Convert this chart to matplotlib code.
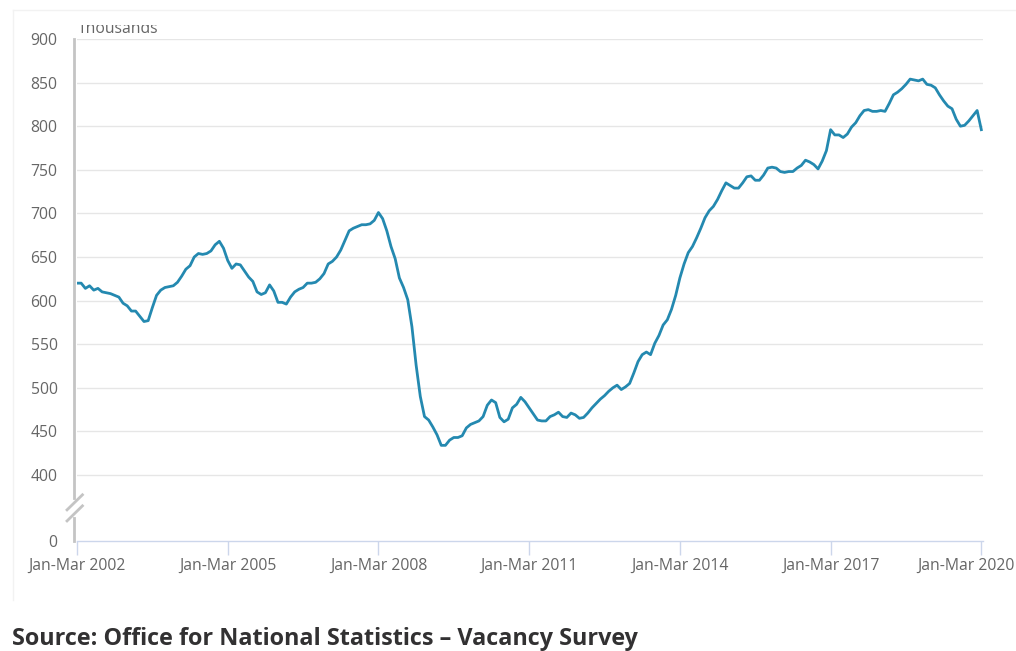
import numpy as np
import matplotlib.pyplot as plt
from matplotlib.transforms import Bbox

# UK vacancies, thousands, rolling quarters Jan-Mar 2002 .. Jan-Mar 2020
vac_2002 = [620, 620, 614, 617, 612, 614, 610, 609, 608, 606, 604, 597]
vac_2003 = [594, 588, 588, 582, 576, 577, 592, 606, 612, 615, 616, 617]
vac_2004 = [621, 628, 636, 640, 650, 654, 653, 654, 657, 664, 668, 660]
vac_2005 = [646, 637, 642, 641, 634, 627, 622, 610, 607, 609, 618, 611]
vac_2006 = [598, 598, 596, 604, 610, 613, 615, 620, 620, 621, 625, 631]
vac_2007 = [642, 645, 650, 658, 669, 680, 683, 685, 687, 687, 688, 692]
vac_2008 = [701, 694, 680, 662, 648, 626, 615, 601, 570, 526, 490, 467]
vac_2009 = [463, 455, 446, 434, 434, 440, 443, 443, 445, 454, 458, 460]
vac_2010 = [462, 467, 480, 486, 483, 466, 461, 464, 477, 481, 489, 484]
vac_2011 = [477, 470, 463, 462, 462, 467, 469, 472, 467, 466, 471, 469]
vac_2012 = [465, 466, 471, 477, 482, 487, 491, 496, 500, 503, 498, 501]
vac_2013 = [505, 517, 530, 538, 541, 538, 551, 560, 572, 578, 590, 606]
vac_2014 = [626, 642, 655, 662, 672, 683, 695, 703, 708, 716, 726, 735]
vac_2015 = [732, 729, 729, 735, 742, 743, 738, 738, 744, 752, 753, 752]
vac_2016 = [748, 747, 748, 748, 752, 755, 761, 759, 756, 751, 760, 772]
vac_2017 = [796, 790, 790, 787, 791, 799, 804, 812, 818, 819, 817, 817]
vac_2018 = [818, 817, 826, 836, 839, 843, 848, 854, 853, 852, 854, 848]
vac_2019 = [847, 844, 836, 829, 823, 820, 808, 800, 801, 806, 812, 818]
vac_2020 = [796]

vacancies = (vac_2002 + vac_2003 + vac_2004 + vac_2005 + vac_2006 + vac_2007
             + vac_2008 + vac_2009 + vac_2010 + vac_2011 + vac_2012 + vac_2013
             + vac_2014 + vac_2015 + vac_2016 + vac_2017 + vac_2018 + vac_2019
             + vac_2020)
months = np.arange(len(vacancies))

x_ticks = [0, 36, 72, 108, 144, 180, 216]
x_labels = ['Jan-Mar 2002', 'Jan-Mar 2005', 'Jan-Mar 2008', 'Jan-Mar 2011',
            'Jan-Mar 2014', 'Jan-Mar 2017', 'Jan-Mar 2020']
y_ticks = [0, 400, 450, 500, 550, 600, 650, 700, 750, 800, 850, 900]

plt.rcParams['font.family'] = ['Open Sans', 'DejaVu Sans']

# broken y axis: 0..400 squeezed into a small band
BAND = 75.7
def fwd(v):
    v = np.asarray(v, dtype=float)
    return np.where(v >= 400, v - 400 + BAND, v * BAND / 400)

def inv(t):
    t = np.asarray(t, dtype=float)
    return np.where(t >= BAND, t - BAND + 400, t * 400 / BAND)

fig = plt.figure(figsize=(10.16, 6.51), dpi=100)
ax = fig.add_axes([77 / 1016, 1 - 541 / 651, 906 / 1016, 502 / 651])

ax.set_yscale('function', functions=(fwd, inv))
ax.set_ylim(0, 900)
ax.set_xlim(0, 216.4)

ax.plot(months, vacancies, color='#2489b0', lw=2.0, solid_joinstyle='round', zorder=3)

# grid
for v in y_ticks[1:]:
    ax.axhline(v, color='#e6e6e6', lw=1, zorder=1)

ax.set_yticks(y_ticks)
ax.set_yticklabels([str(v) for v in y_ticks])
ax.set_xticks(x_ticks)
ax.set_xticklabels(x_labels)
ax.tick_params(axis='y', length=0, pad=14, labelsize=11.3, labelcolor='#666666')
ax.tick_params(axis='x', length=10, width=1, color='#ccd6eb', pad=2,
               labelsize=11.3, labelcolor='#666666')
# last label sits against the right edge
ax.get_xticklabels()[-1].set_horizontalalignment('right')
ax.get_xticklabels()[-1].set_x(216.4)
from matplotlib.transforms import ScaledTranslation
last = ax.get_xticklabels()[-1]
last.set_transform(last.get_transform() + ScaledTranslation(33 / 100, 0, fig.dpi_scale_trans))

for s in ['top', 'right', 'left']:
    ax.spines[s].set_visible(False)
ax.spines['bottom'].set_color('#ccd6eb')
ax.spines['bottom'].set_linewidth(1)

# left axis line with break marks
sp = dict(color='#c4c4c4', lw=2, transform=ax.transAxes, clip_on=False, zorder=4)
ax.plot([-0.003, -0.003], [1.0, 0.085], **sp)
ax.plot([-0.003, -0.003], [0.045, 0.0], **sp)
ax.plot([-0.011, 0.006], [0.062, 0.092], **sp)
ax.plot([-0.011, 0.006], [0.040, 0.070], **sp)

# units label, cut off by the container edge like the original
t = fig.text(78 / 1016, 1 - 33 / 651, 'Thousands', fontsize=11.3, color='#666666')
t.set_clip_box(Bbox.from_extents(0, 0, 1016, 651 - 24.5))
t.set_clip_on(True)

# faint card outline
fig.add_artist(plt.Line2D([13 / 1016, 1], [1 - 10 / 651, 1 - 10 / 651],
                          transform=fig.transFigure, color='#f2f2f2', lw=1))
fig.add_artist(plt.Line2D([13 / 1016, 13 / 1016], [1 - 10 / 651, 1 - 600 / 651],
                          transform=fig.transFigure, color='#f2f2f2', lw=1))

fig.text(12 / 1016, 1 - 645 / 651, 'Source: Office for National Statistics \u2013 Vacancy Survey',
         fontsize=16.8, fontweight='bold', color='#323132')

fig.savefig('out.png', dpi=100)
